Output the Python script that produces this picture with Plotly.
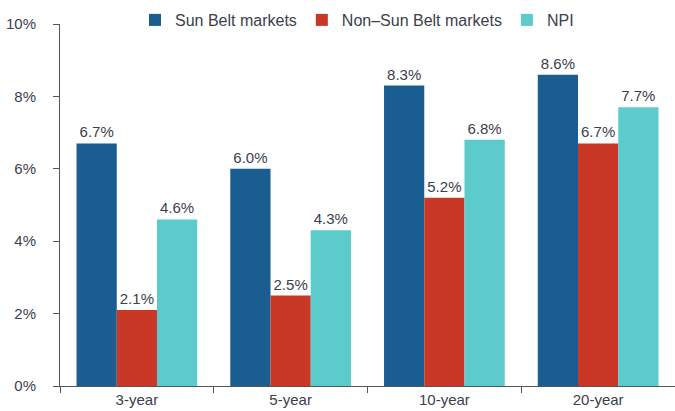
import plotly.graph_objects as go

categories = ["3-year", "5-year", "10-year", "20-year"]
sun_belt = [6.7, 6.0, 8.3, 8.6]
non_sun_belt = [2.1, 2.5, 5.2, 6.7]
npi = [4.6, 4.3, 6.8, 7.7]
series_names = ["Sun Belt markets", "Non\u2013Sun Belt markets", "NPI"]
colors = ["#195D91", "#C93826", "#5BCBCB"]
y_ticks = [0, 2, 4, 6, 8, 10]

text_color = "#3B404B"
font_family = "Liberation Sans, Arial, sans-serif"

fig = go.Figure()
for name, vals, col in zip(series_names, [sun_belt, non_sun_belt, npi], colors):
    fig.add_trace(go.Bar(
        x=categories, y=vals, name=name,
        marker=dict(color=col, line=dict(width=0)),
        texttemplate="%{y:.1f}%", textposition="outside",
        textfont=dict(size=15, color=text_color, family=font_family),
        cliponaxis=False,
    ))

fig.update_layout(
    width=675, height=411,
    margin=dict(l=60, r=0, t=24, b=25, autoexpand=False),
    paper_bgcolor="white", plot_bgcolor="white",
    barmode="group", bargap=0.215, bargroupgap=0,
    font=dict(family=font_family, color=text_color, size=15),
    showlegend=True,
    legend=dict(orientation="h", xref="container", yref="container",
                x=0.2, xanchor="left", y=1 - 20 / 411, yanchor="middle",
                font=dict(size=16, color=text_color), itemwidth=30,
                bgcolor="rgba(0,0,0,0)"),
)
fig.update_yaxes(
    range=[0, 10], tickvals=y_ticks, ticktext=[f"{v}%" for v in y_ticks],
    showgrid=False, zeroline=False, automargin=False,
    showline=True, linecolor="#555555", linewidth=1,
    ticks="outside", ticklen=6, tickcolor="#555555", ticklabelstandoff=14,
    tickfont=dict(size=15, color=text_color),
)
fig.update_xaxes(
    showgrid=False, showline=True, linecolor="#555555", linewidth=1, automargin=False,
    ticks="outside", ticklen=6, tickcolor="#555555", tickson="boundaries",
    tickfont=dict(size=15, color=text_color),
)

fig.write_html("out.html", config={"displayModeBar": False},
               post_script="document.body.style.margin='0px';")
